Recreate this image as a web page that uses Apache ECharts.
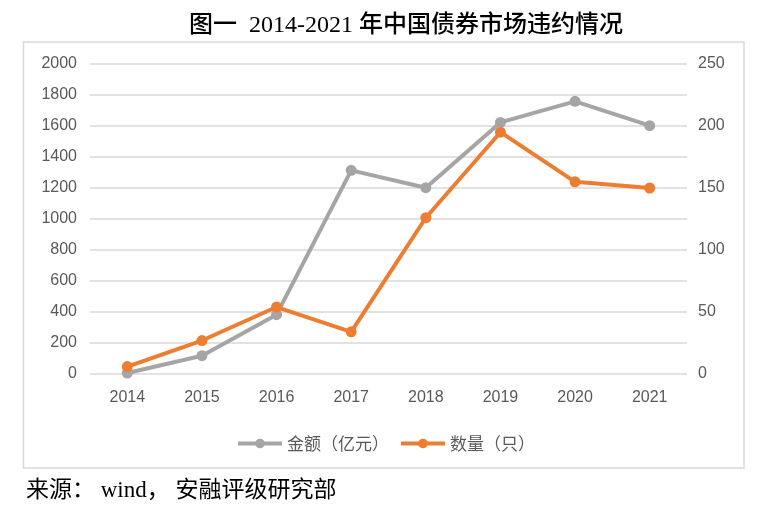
<!DOCTYPE html>
<html>
<head>
<meta charset="utf-8">
<script src="https://cdn.jsdelivr.net/npm/echarts@6/dist/echarts.min.js"></script>
<style>
html,body{margin:0;padding:0;background:#fff;}
#chart{width:774px;height:508px;}
</style>
</head>
<body>
<div id="chart"></div>
<script>
var categories = ['2014','2015','2016','2017','2018','2019','2020','2021'];
var amountValues = [6, 118, 383, 1314, 1202, 1623, 1759, 1602];
var countValues = [6, 27, 54, 34, 126, 195, 155, 150];
var seriesNames = ['金额（亿元）', '数量（只）'];
var titleText = '图一  2014-2021 年中国债券市场违约情况';
var sourceText = '来源： wind， 安融评级研究部';

var chart = echarts.init(document.getElementById('chart'));
var labelColor = '#595959';
var option = {
  backgroundColor: '#fff',
  animation: false,
  title: {
    text: titleText,
    left: 401,
    top: 9,
    textAlign: 'center',
    textStyle: {
      fontFamily: '"Liberation Serif", "Noto Sans CJK SC", serif',
      fontSize: 24,
      fontWeight: 500,
      color: '#000'
    }
  },
  graphic: [
    {
      type: 'rect',
      shape: {x: 23.5, y: 42, width: 720.5, height: 426},
      style: {fill: 'none', stroke: '#D9D9D9', lineWidth: 1.5},
      silent: true
    },
    {
      type: 'text',
      left: 26,
      top: 479,
      style: {
        text: sourceText,
        fontFamily: '"Liberation Serif", "Noto Sans CJK SC", serif',
        fontSize: 23,
        fill: '#000'
      }
    }
  ],
  legend: {
    data: seriesNames,
    left: 231,
    top: 430,
    itemWidth: 44,
    itemHeight: 12,
    itemGap: 10,
    lineStyle: {width: 4},
    textStyle: {
      color: labelColor,
      fontSize: 17,
      fontFamily: '"Noto Sans CJK SC", sans-serif'
    }
  },
  grid: {
    left: 90,
    right: 87,
    top: 64,
    bottom: 134,
    containLabel: false
  },
  xAxis: {
    type: 'category',
    data: categories,
    boundaryGap: true,
    axisLine: {show: false},
    axisTick: {show: false},
    axisLabel: {
      color: labelColor,
      fontSize: 16,
      margin: 16,
      fontFamily: '"Liberation Sans", Roboto, sans-serif'
    }
  },
  yAxis: [
    {
      type: 'value',
      min: 0,
      max: 2000,
      interval: 200,
      axisLine: {show: false},
      axisTick: {show: false},
      axisLabel: {
        color: labelColor,
        fontSize: 16,
        margin: 13,
        formatter: function (v) { return String(v); },
        fontFamily: '"Liberation Sans", Roboto, sans-serif'
      },
      splitLine: {lineStyle: {color: '#D9D9D9', width: 1.5}}
    },
    {
      type: 'value',
      min: 0,
      max: 250,
      interval: 50,
      axisLine: {show: false},
      axisTick: {show: false},
      axisLabel: {
        color: labelColor,
        fontSize: 16,
        margin: 11,
        formatter: function (v) { return String(v); },
        fontFamily: '"Liberation Sans", Roboto, sans-serif'
      },
      splitLine: {show: false}
    }
  ],
  series: [
    {
      name: seriesNames[0],
      type: 'line',
      yAxisIndex: 0,
      data: amountValues,
      symbol: 'circle',
      symbolSize: 11,
      itemStyle: {color: '#A5A5A5'},
      lineStyle: {color: '#A5A5A5', width: 4}
    },
    {
      name: seriesNames[1],
      type: 'line',
      yAxisIndex: 1,
      data: countValues,
      symbol: 'circle',
      symbolSize: 11,
      itemStyle: {color: '#ED7D31'},
      lineStyle: {color: '#ED7D31', width: 4}
    }
  ]
};
chart.setOption(option);
</script>
</body>
</html>
